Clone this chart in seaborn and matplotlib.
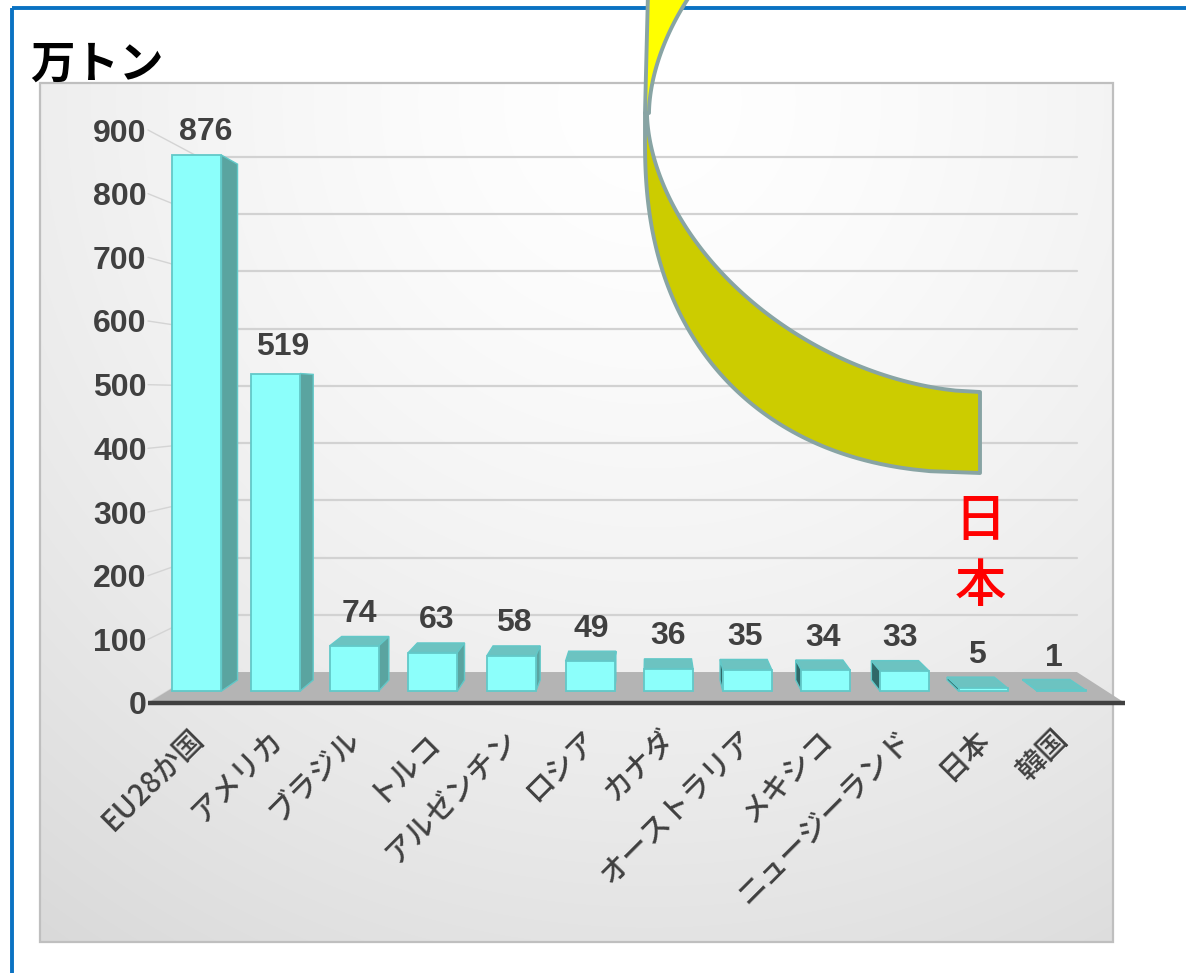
import numpy as np
import pandas as pd
import matplotlib
matplotlib.use("Agg")
import matplotlib.pyplot as plt
import seaborn as sns
from matplotlib.patches import Polygon, Rectangle

# ---------------- data ----------------
countries = ["EU28か国", "アメリカ", "ブラジル", "トルコ", "アルゼンチン", "ロシア",
             "カナダ", "オーストラリア", "メキシコ", "ニュージーランド", "日本", "韓国"]
values = [876, 519, 74, 63, 58, 49, 36, 35, 34, 33, 5, 1]
y_ticks = [0, 100, 200, 300, 400, 500, 600, 700, 800, 900]
unit_label = "万トン"
highlight_label = ["日", "本"]

# ---------------- style ----------------
FRONT = "#8CFFFB"
EDGE = "#62C8C8"
TOP = "#6CC3C1"
SIDE_R = "#5AA4A0"
SIDE_L = "#2F6868"
TXT = "#404040"

W, H = 1186, 973
sns.set_style("white")
plt.rcParams['font.family'] = ['Liberation Sans', 'Noto Sans CJK JP', 'DejaVu Sans']
CJK = ['Noto Sans CJK JP', 'DejaVu Sans']

fig = plt.figure(figsize=(W / 100, H / 100), dpi=100)

# ---------------- background (pixel coordinates) ----------------
bg = fig.add_axes([0, 0, 1, 1], zorder=0)
X0, X1, Y0, Y1 = 40, 1113, 83, 942
xx, yy = np.meshgrid(np.linspace(X0, X1, 400), np.linspace(Y0, Y1, 400))
d = np.hypot(xx - 650, yy - 100) / 850
g = np.clip(1 - 0.11 * d ** 1.5, 0, 1)
bg.imshow(np.dstack([g, g, g]), extent=(X0, X1, Y1, Y0), aspect='auto',
          interpolation='bilinear', zorder=0)
bg.add_patch(Rectangle((X0, Y0), X1 - X0, Y1 - Y0, fill=False, ec="#BFBFBF", lw=1.6, zorder=1))
bg.set_xlim(0, W)
bg.set_ylim(H, 0)
bg.axis('off')

# ---------------- data axes ----------------
L, R = 148, 1125
Y_ZERO, Y_TOP = 703, 130
ax = fig.add_axes([L / W, 1 - Y_ZERO / H, (R - L) / W, (Y_ZERO - Y_TOP) / H], zorder=1)
ax.patch.set_alpha(0)

df = pd.DataFrame({"country": countries, "value": values})
sns.barplot(data=df, x="country", y="value", ax=ax, color=FRONT, width=0.623,
            edgecolor=EDGE, linewidth=1.3, saturation=1, zorder=3)

X_PX0, STEP = 178.6, 81.8
ax.set_xlim((L - X_PX0) / STEP, (R - X_PX0) / STEP)
ax.set_ylim(0, 900)
PX_PER_UNIT = (Y_ZERO - Y_TOP) / 900
VX = (650 - X_PX0) / STEP
VY = (Y_ZERO - 397) / PX_PER_UNIT
F1, F2, FW = 0.039, 0.075, 0.1012


def proj(x, y, f):
    return (x + f * (VX - x), y + f * (VY - y))


xl, xr = ax.get_xlim()

# back wall gridlines and connectors
for t in y_ticks[1:]:
    a = proj(xl, t, FW)
    b = proj(xr, t, FW)
    ax.plot([a[0], b[0]], [a[1], b[1]], color="#D2D2D2", lw=1.6, zorder=0.5, clip_on=False)
for t in y_ticks:
    a = proj(xl, t, FW)
    ax.plot([xl, a[0]], [t, a[1]], color="#D4D4D4", lw=1.0, zorder=0.5, clip_on=False)

# floor
floor = [(xl, 0), (xr, 0), proj(xr, 0, FW), proj(xl, 0, FW)]
ax.add_patch(Polygon(floor, closed=True, fc="#B4B4B4", ec="none", zorder=1, clip_on=False))
ax.plot([xl, xr], [0, 0], color="#404040", lw=3.2, zorder=6, clip_on=False,
        solid_capstyle='butt')

# 3D bar faces
for p, v in zip(list(ax.patches), values):
    x0, w, h = p.get_x(), p.get_width(), p.get_height()
    x1 = x0 + w
    fl, fr = proj(x0, 0, F1), proj(x1, 0, F1)
    tl, tr = proj(x0, h, F1), proj(x1, h, F1)
    bl, br = proj(x0, 0, F2), proj(x1, 0, F2)
    btl, btr = proj(x0, h, F2), proj(x1, h, F2)
    p.set_x(fl[0])
    p.set_width(fr[0] - fl[0])
    p.set_y(fl[1])
    p.set_height(tl[1] - fl[1])
    p.set_clip_on(False)
    if h < VY:
        ax.add_patch(Polygon([tl, tr, btr, btl], closed=True, fc=TOP, ec=EDGE, lw=1.0,
                             zorder=2, clip_on=False))
    if x1 < VX:
        ax.add_patch(Polygon([fr, tr, btr, br], closed=True, fc=SIDE_R, ec=EDGE, lw=1.0,
                             zorder=2, clip_on=False))
    if x0 > VX:
        ax.add_patch(Polygon([fl, tl, btl, bl], closed=True, fc=SIDE_L, ec=EDGE, lw=1.0,
                             zorder=2, clip_on=False))
    mid = proj((x0 + x1) / 2, h, (F1 + F2) / 2)
    ax.annotate(f"{v}", xy=mid, xytext=(0, 14), textcoords="offset points",
                ha="center", va="baseline", fontsize=23, fontweight="bold", color=TXT,
                annotation_clip=False, zorder=7)

# ticks
ax.set_yticks(y_ticks)
ax.tick_params(axis='y', length=0, pad=1, labelsize=23, labelcolor=TXT)
for lab in ax.get_yticklabels():
    lab.set_fontweight("bold")

label_shift = -9 / STEP
xpos = [i + F1 * (VX - i) + label_shift for i in range(len(countries))]
ax.set_xticks(xpos, countries)
ax.tick_params(axis='x', length=0, pad=15, labelsize=21, labelcolor=TXT)
for lab in ax.get_xticklabels():
    lab.set_rotation(45)
    lab.set_ha("right")
    lab.set_va("top")
    lab.set_rotation_mode("anchor")
    lab.set_family(CJK)
    lab.set_fontweight("medium")

ax.set_xlabel("")
ax.set_ylabel("")
for s in ax.spines.values():
    s.set_visible(False)
ax.grid(False)

# ---------------- overlay (pixel coordinates) ----------------
ov = fig.add_axes([0, 0, 1, 1], zorder=5)
ov.patch.set_alpha(0)
ov.set_xlim(0, W)
ov.set_ylim(H, 0)
ov.axis('off')

# blue frame
ov.add_patch(Rectangle((12, 8), 1300, 1100, fill=False, ec="#0A72C2", lw=2.8, zorder=1))

# curved band
def outer_x(y):
    t = np.clip((y - 140) / 333, 0, 1)
    return 980 - 335 * (1 - t ** 2.3) ** (1 / 2.3)

def inner_x(y):
    t = np.clip(np.abs(y - 113) / 279, 0, 1)
    return 980 - 333 * (1 - t ** 1.8) ** (1 / 1.8)

ys_out = np.linspace(113, 473, 200)
ys_in = np.linspace(392, 113, 200)
lower = [(outer_x(y), y) for y in ys_out] + [(980, 473), (980, 392)] + \
        [(inner_x(y), y) for y in ys_in]
ov.add_patch(Polygon(lower, closed=True, fc="#CCCC00", ec="#88A4A4", lw=2.8,
                     joinstyle='round', zorder=3))
ys_up = np.linspace(113, -30, 80)
upper = [(645 + (113 - y) * 0.025, y) for y in ys_up] + \
        [(inner_x(y) + 2, y) for y in ys_up[::-1]]
ov.add_patch(Polygon(upper, closed=True, fc="#FFFF00", ec="#88A4A4", lw=2.8,
                     joinstyle='round', zorder=3))

# texts
ov.text(30, 65, unit_label, ha="left", va="center", fontsize=32, fontweight="bold",
        color="black", family=CJK, zorder=4)
ov.text(980, 521, highlight_label[0], ha="center", va="center", fontsize=37,
        color="#FF0000", family=CJK, fontweight="medium", zorder=4)
ov.text(980, 587, highlight_label[1], ha="center", va="center", fontsize=37,
        color="#FF0000", family=CJK, fontweight="medium", zorder=4)

fig.savefig("out.png", dpi=100)
